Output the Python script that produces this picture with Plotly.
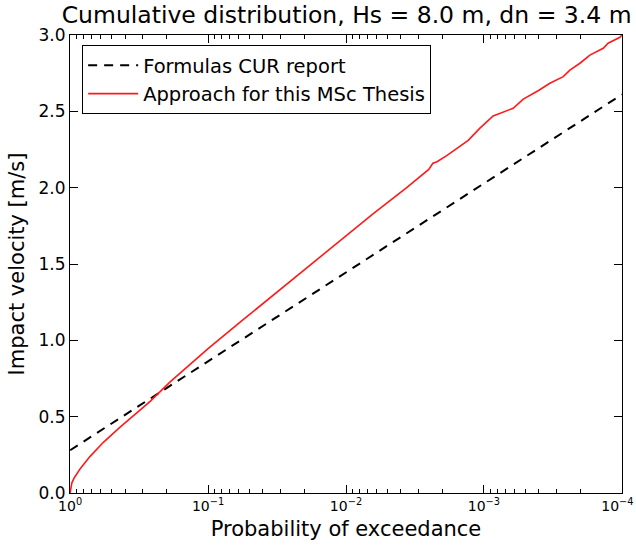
import plotly.graph_objects as go

# ---- data ----
# exceedance probability exponents (p = 10**exp) and impact velocity [m/s]
red_exceed_exp = [0.0, -0.004, -0.012, -0.03, -0.05, -0.072, -0.1, -0.145, -0.241,
                  -0.362, -0.483, -0.58, -0.725, -0.845, -1.0, -1.25, -1.5, -1.75,
                  -2.0, -2.198, -2.44, -2.6, -2.63, -2.66, -2.73, -2.886, -2.971,
                  -3.067, -3.212, -3.285, -3.393, -3.478, -3.575, -3.623, -3.696,
                  -3.768, -3.865, -3.9, -3.986, -4.0]
red_velocity = [0.0, 0.035, 0.065, 0.10, 0.13, 0.158, 0.19, 0.24, 0.332,
                0.432, 0.525, 0.60, 0.728, 0.825, 0.945, 1.132, 1.316, 1.50,
                1.68, 1.83, 2.0, 2.12, 2.16, 2.17, 2.21, 2.31, 2.39,
                2.47, 2.52, 2.58, 2.635, 2.684, 2.727, 2.77, 2.815,
                2.868, 2.913, 2.946, 2.985, 3.0]

cur_exceed_exp = [0.0, -4.0]
cur_velocity = [0.28, 2.61]

x_tick_exp = [0, -1, -2, -3, -4]
x_tick_text = ["10<sup>0</sup>", "10<sup>\u22121</sup>", "10<sup>\u22122</sup>",
               "10<sup>\u22123</sup>", "10<sup>\u22124</sup>\u00a0\u00a0"]
y_tick_vals = [0.0, 0.5, 1.0, 1.5, 2.0, 2.5, 3.0]
y_tick_text = ["0.0", "0.5", "1.0", "1.5", "2.0", "2.5", "3.0"]

red_p = [10 ** e for e in red_exceed_exp]
cur_p = [10 ** e for e in cur_exceed_exp]
x_tick_vals = [10 ** e for e in x_tick_exp]
minor_vals = [k * 10 ** e for e in range(-4, 0) for k in range(2, 10)]

FONT = "DejaVu Sans"

fig = go.Figure()
fig.add_trace(go.Scatter(x=cur_p, y=cur_velocity, mode="lines",
                         name="Formulas CUR report",
                         line=dict(color="black", width=2, dash="9px,7px")))
fig.add_trace(go.Scatter(x=red_p, y=red_velocity, mode="lines",
                         name="Approach for this MSc Thesis",
                         line=dict(color="#ff1a1a", width=1.6)))

fig.update_layout(
    width=636, height=549,
    margin=dict(l=70, r=14, t=35, b=56),
    paper_bgcolor="white", plot_bgcolor="white",
    font=dict(family=FONT, size=15, color="black"),
    title=dict(text="Cumulative distribution, Hs = 8.0 m, dn = 3.4 m",
               x=0.545, xanchor="center", y=0.988, yanchor="top",
               font=dict(size=23.5, family=FONT, color="black")),
    showlegend=True,
    legend=dict(x=0.022, y=0.978, xanchor="left", yanchor="top",
                bordercolor="black", borderwidth=1, bgcolor="white",
                font=dict(size=19.5, family=FONT), itemwidth=50,
                traceorder="normal"),
)

fig.update_xaxes(
    type="log", range=[0.001, -4.001], automargin=False,
    tickmode="array", tickvals=x_tick_vals, ticktext=x_tick_text,
    ticks="inside", ticklen=8, tickcolor="black",
    ticklabeloverflow="allow",
    showline=True, linecolor="black", linewidth=1.2, mirror="ticks",
    showgrid=False, zeroline=False,
    tickfont=dict(size=14, family=FONT),
    minor=dict(tickmode="array", tickvals=minor_vals, ticks="inside",
               ticklen=4, tickcolor="black", showgrid=False),
    title=dict(text="Probability of exceedance", font=dict(size=21, family=FONT),
               standoff=8),
)
fig.update_yaxes(
    range=[0, 3.0], automargin=False,
    tickmode="array", tickvals=y_tick_vals, ticktext=y_tick_text,
    ticks="inside", ticklen=8, tickcolor="black",
    showline=True, linecolor="black", linewidth=1.2, mirror="ticks",
    showgrid=False, zeroline=False,
    tickfont=dict(size=17, family=FONT),
    title=dict(text="Impact velocity [m/s]", font=dict(size=21, family=FONT),
               standoff=8),
)

fig.write_html("out.html")
